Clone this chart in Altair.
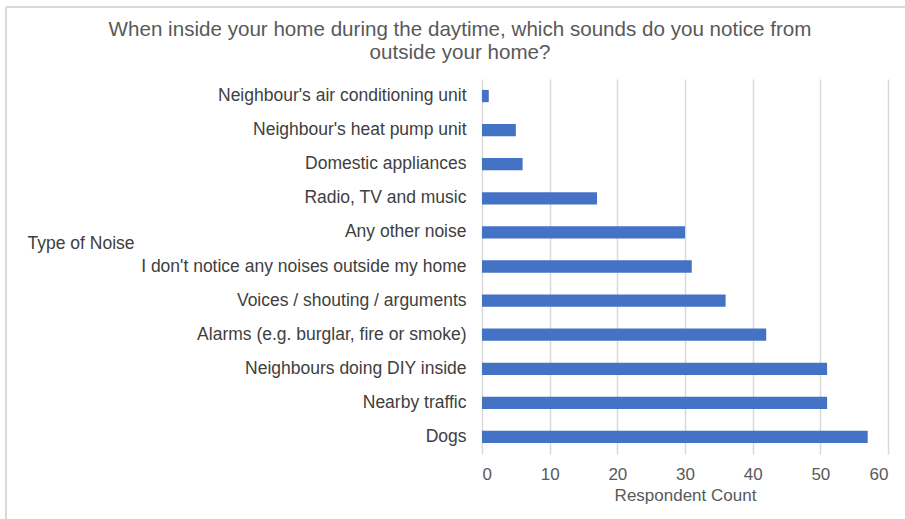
import altair as alt
import pandas as pd

categories = [
    "Neighbour's air conditioning unit",
    "Neighbour's heat pump unit",
    "Domestic appliances",
    "Radio, TV and music",
    "Any other noise",
    "I don't notice any noises outside my home",
    "Voices / shouting / arguments",
    "Alarms (e.g. burglar, fire or smoke)",
    "Neighbours doing DIY inside",
    "Nearby traffic",
    "Dogs",
]
counts = [1, 5, 6, 17, 30, 31, 36, 42, 51, 51, 57]
x_ticks = [0, 10, 20, 30, 40, 50, 60]
title_lines = [
    "When inside your home during the daytime, which sounds do you notice from",
    "outside your home?",
]

df = pd.DataFrame({"noise": categories, "count": counts})
title_df = pd.DataFrame({"line": title_lines, "row": [0, 1]})

FONT = "Liberation Sans"
PL, PT = 482, 79

bars = alt.Chart(df).mark_bar(color="#4472C4").encode(
    x=alt.X(
        "count:Q",
        scale=alt.Scale(domain=[0, 60], nice=False),
        axis=alt.Axis(
            values=x_ticks,
            title="Respondent Count",
            grid=True,
            gridColor="#d9d9d9",
            gridWidth=1.5,
            domain=False,
            ticks=False,
            labelFontSize=17,
            labelColor="#595959",
            labelPadding=12,
            titleFontSize=17,
            titleColor="#595959",
            titleFontWeight="normal",
            titlePadding=5,
            labelFont=FONT,
            titleFont=FONT,
        ),
    ),
    y=alt.Y(
        "noise:N",
        sort=categories,
        scale=alt.Scale(paddingInner=0.64, paddingOuter=0.32),
        axis=alt.Axis(
            title="Type of Noise",
            titleAngle=0,
            titleAlign="left",
            titleBaseline="middle",
            titleX=27 - PL,
            titleY=164,
            titleFontSize=17.5,
            titleColor="#404040",
            titleFontWeight="normal",
            titleFont=FONT,
            domain=False,
            ticks=False,
            labelFontSize=17.5,
            labelColor="#404040",
            labelPadding=16,
            labelFont=FONT,
            labelLimit=0,
        ),
    ),
)

border_top = alt.Chart(df).mark_rule(color="#d9d9d9", strokeWidth=1.5).encode(
    x=alt.value(6 - PL), x2=alt.value(905 - PL), y=alt.value(7 - PT)
)
border_left = alt.Chart(df).mark_rule(color="#d9d9d9", strokeWidth=1.5).encode(
    x=alt.value(6 - PL), y=alt.value(7 - PT), y2=alt.value(519 - PT)
)

title_text = alt.Chart(title_df).mark_text(
    font=FONT, fontSize=20.6, color="#595959", align="center", baseline="middle"
).encode(
    text="line:N",
    x=alt.value(460 - PL),
    y=alt.Y("row:Q", scale=alt.Scale(domain=[0, 1], range=[30 - PT, 53 - PT], nice=False, zero=False), axis=None),
)

chart = alt.layer(border_top, border_left, title_text, bars).resolve_scale(y="independent").properties(
    width=406,
    height=375,
    autosize=alt.AutoSizeParams(type="none"),
    padding={"left": PL, "top": PT, "right": 17, "bottom": 65},
    background="white",
).configure_view(stroke=None)

chart.save("out.html", embed_options={"renderer": "svg", "actions": False})
